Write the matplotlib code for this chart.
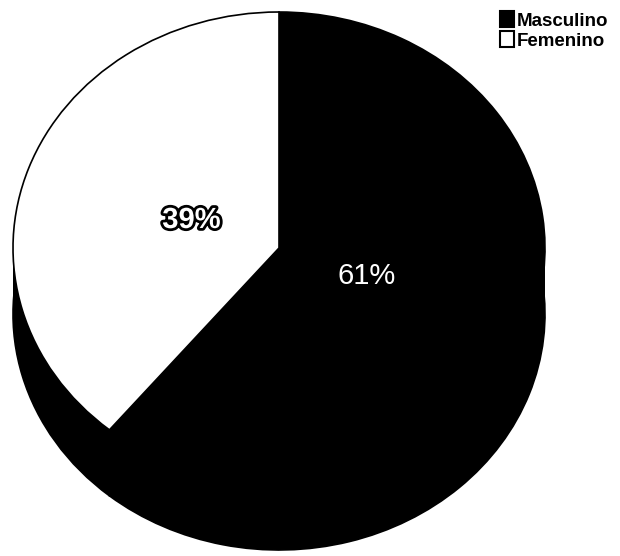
import matplotlib
matplotlib.use("Agg")
import matplotlib.pyplot as plt
import matplotlib.patheffects as pe
from matplotlib.patches import Patch, Rectangle

# datos
categorias = ["Masculino", "Femenino"]
porcentajes = [61, 39]
colores = ["black", "white"]

plt.rcParams["font.family"] = ["Liberation Sans", "DejaVu Sans"]

fig = plt.figure(figsize=(6.2, 5.56), dpi=100, facecolor="white")

# ejes elípticos (pastel 3D visto desde arriba)
DEPTH = 66 / 236
ax = fig.add_axes([13 / 620, 6 / 556, 532 / 620, 538 / 556])

# pared lateral
ax.pie(porcentajes, colors=["black", "black"], center=(0, -DEPTH), radius=1,
       startangle=90, counterclock=False,
       wedgeprops=dict(edgecolor="black", linewidth=1.2))
ax.add_patch(Rectangle((-1, -DEPTH), 2, DEPTH, color="black", lw=1.2))

# cara superior
wedges, _, autotexts = ax.pie(
    porcentajes, colors=colores, startangle=90, counterclock=False,
    autopct="%1.0f%%", pctdistance=0.35,
    wedgeprops=dict(edgecolor="black", linewidth=1.2),
)
autotexts[0].set(color="white", fontsize=21)
autotexts[1].set(color="white", fontsize=21, fontweight="bold")
autotexts[1].set_path_effects([pe.withStroke(linewidth=4, foreground="black")])

ax.set_aspect("auto")
ax.set_xlim(-1, 1)
ax.set_ylim(-1 - DEPTH, 1)
ax.axis("off")

handles = [Patch(facecolor=c, edgecolor="black", linewidth=1.5) for c in colores]
fig.legend(handles, categorias, loc="upper right", bbox_to_anchor=(1.0, 1.0),
           frameon=False, prop=dict(size=13.5, weight="bold"),
           handlelength=0.75, handleheight=0.9, handletextpad=0.15,
           labelspacing=0.1, borderaxespad=0.2)

fig.savefig("out.png", dpi=100, facecolor="white")
